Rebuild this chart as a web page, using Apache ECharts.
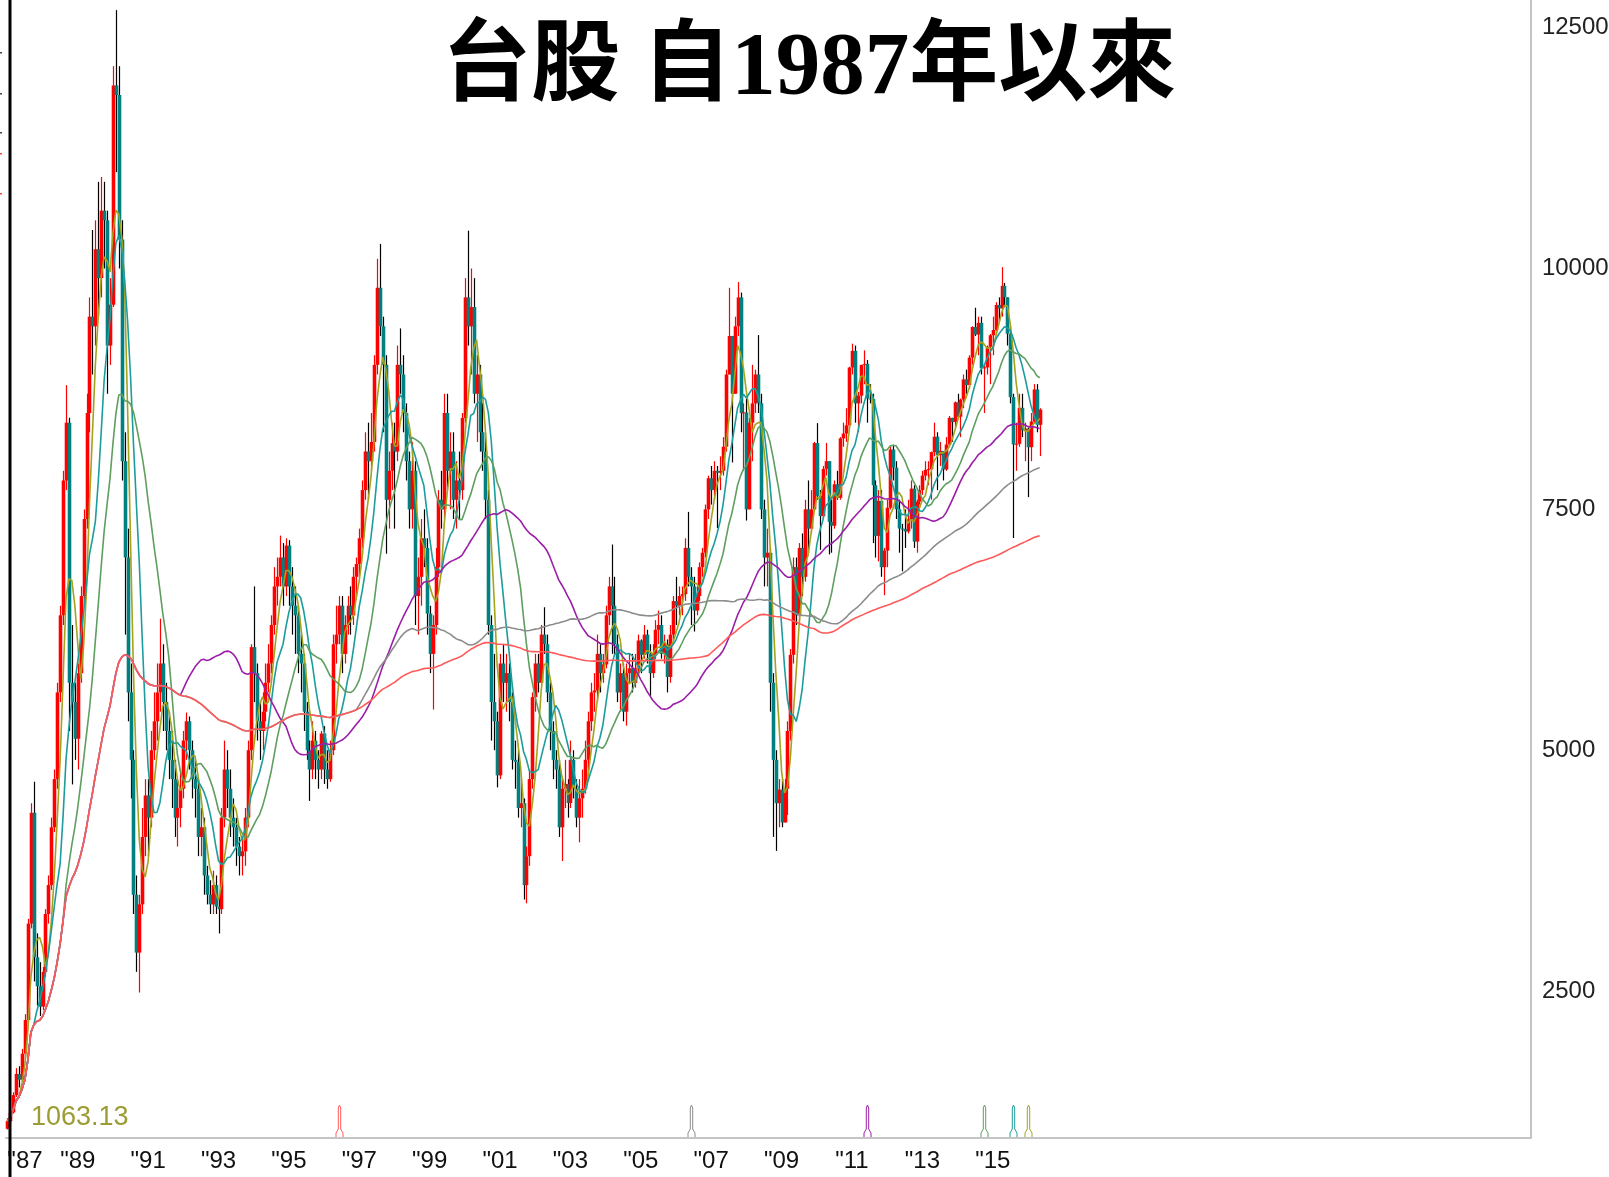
<!DOCTYPE html>
<html><head><meta charset="utf-8">
<script src="https://cdn.jsdelivr.net/npm/echarts@6/dist/echarts.min.js"></script>
<style>html,body{margin:0;padding:0;background:#fff;overflow:hidden}#c{width:1609px;height:1177px}</style>
</head><body><div id="c"></div>
<script>
// ---- DATA: monthly TAIEX candles, each row [open, close, low, high] ----
const startYear = 1987;
const y1987 = [[1070,1150,1063.13,1180],[1150,1240,1120,1260],[1240,1420,1230,1450],[1420,1640,1400,1700],[1640,1580,1500,1720],[1580,1850,1560,1900],[1850,2200,1820,2260],[2200,3200,2180,3250],[3200,4350,3150,4450],[4350,2850,2600,4673],[2850,2550,2350,3100],[2550,2339,2241,2800]];
const y1988 = [[2339,2700,2300,2750],[2700,3300,2650,3350],[3300,3600,3200,3700],[3600,4200,3550,4300],[4200,4700,4150,4800],[4700,5600,4600,5700],[5600,6400,5500,6500],[6400,7800,6300,7900],[7800,8400,7700,8789],[8400,5700,5200,8450],[5700,5500,4645,6300],[5500,5119,4900,5700]];
const y1989 = [[5119,5800,4800,5900],[5800,6600,5700,6700],[6600,7400,6500,7500],[7400,8500,7300,8700],[8500,9500,8300,9700],[9500,9400,8900,10400],[9400,10200,9200,10500],[10200,9900,9500,10900],[9900,10600,9700,10950],[10600,10500,10000,10900],[10500,9200,8700,10600],[9200,9624,9000,9900]];
const y1990 = [[9624,11900,9600,12100],[11900,11800,11000,12682],[11800,10300,10000,12100],[10300,8000,7800,10500],[8000,7000,6200,8300],[7000,5600,5300,7300],[5600,4900,4500,5900],[4900,3500,3300,5000],[3500,2900,2700,3700],[2900,3400,2485,3500],[3400,4100,3300,4400],[4100,4530,3900,4700]];
const y1991 = [[4530,4300,3900,4700],[4300,5000,4200,5200],[5000,5300,4900,5600],[5300,5600,5100,5900],[5600,5900,5400,6365],[5900,5500,5200,6100],[5500,5200,5000,5700],[5200,4900,4700,5400],[4900,4700,4400,5200],[4700,4300,4100,4900],[4300,4400,4000,4700],[4400,4600,4200,4800]];
const y1992 = [[4600,5100,4500,5200],[5100,5300,4900,5391],[5300,5000,4800,5350],[5000,4700,4500,5100],[4700,4600,4300,4900],[4600,4100,3900,4700],[4100,4200,3900,4400],[4200,3700,3500,4300],[3700,3500,3400,3800],[3500,3400,3300,3650],[3400,3600,3300,3750],[3600,3377,3300,3700]];
const y1993 = [[3377,3350,3098,3500],[3350,4300,3300,4400],[4300,4800,4200,5100],[4800,4600,4400,5000],[4600,4300,4100,4800],[4300,4200,4000,4500],[4200,4000,3800,4300],[4000,3900,3700,4100],[3900,3950,3700,4100],[3950,4300,3800,4400],[4300,5000,4200,5100],[5000,6070,4900,6100]];
const y1994 = [[6070,5800,5500,6700],[5800,5300,5100,5900],[5300,5200,4900,5500],[5200,5400,5000,5600],[5400,5700,5300,5900],[5700,5900,5600,6100],[5900,6300,5800,6400],[6300,6700,6200,6900],[6700,6800,6500,7000],[6800,7000,6700,7228],[7000,6700,6500,7150],[6700,7124,6600,7200]];
const y1995 = [[7124,6700,6500,7180],[6700,6500,6200,6900],[6500,6400,6000,6700],[6400,6000,5800,6500],[6000,5900,5600,6200],[5900,5400,5200,6000],[5400,5000,4900,5500],[5000,4800,4474,5100],[4800,5100,4700,5300],[5100,4900,4700,5200],[4900,4800,4600,5000],[4800,5173,4700,5200]];
const y1996 = [[5173,4800,4650,5250],[4800,4700,4600,5000],[4700,5000,4672,5100],[5000,6100,4950,6200],[6100,6200,5900,6500],[6200,6500,6100,6600],[6500,6000,5800,6600],[6000,6300,5900,6400],[6300,6500,6200,6600],[6500,6400,6200,6700],[6400,6800,6300,6900],[6800,6933,6600,7000]];
const y1997 = [[6933,7200,6800,7300],[7200,7700,7100,7800],[7700,8100,7600,8300],[8100,8000,7600,8400],[8000,8200,7900,8500],[8200,9000,8100,9100],[9000,9800,8900,10100],[9800,9400,9300,10256],[9400,9000,8300,9500],[9000,7600,7040,9100],[7600,7900,7300,8100],[7900,8187,7700,8400]];
const y1998 = [[8187,8100,7300,8400],[8100,9000,8000,9200],[9000,8900,8700,9378],[8900,8500,8300,9100],[8500,8000,7800,8600],[8000,7500,7300,8100],[7500,7900,7300,8200],[7900,6600,6300,8000],[6600,6800,6200,7000],[6800,7200,6500,7400],[7200,7100,6900,7500],[7100,6418,6200,7200]];
const y1999 = [[6418,6000,5800,6500],[6000,6300,5422,6400],[6300,6900,6200,7100],[6900,7600,6800,7700],[7600,7500,7300,7900],[7500,8500,7400,8700],[8500,7900,7700,8700],[7900,8100,7500,8300],[8100,7600,7400,8300],[7600,7800,7300,8000],[7800,7700,7400,8100],[7700,8448,7600,8500]];
const y2000 = [[8448,9700,8400,9900],[9700,9400,9200,10393],[9400,9600,8900,10000],[9600,8700,8600,9900],[8700,8900,8200,9100],[8900,8300,8100,9000],[8300,8100,7900,8600],[8100,7600,7400,8300],[7600,6300,6200,7700],[6300,5500,5100,6400],[5500,5300,5000,6000],[5300,4739,4614,5400]];
const y2001 = [[4739,5900,4700,6000],[5900,5700,5500,6104],[5700,5800,5400,6000],[5800,5500,5300,5900],[5500,4900,4800,5600],[4900,4880,4600,5100],[4880,4400,4300,5000],[4400,4450,4200,4700],[4450,3600,3450,4500],[3600,3900,3411,4000],[3900,4700,3800,4800],[4700,5551,4600,5600]];
const y2002 = [[5551,5900,5400,6000],[5900,5700,5600,6000],[5700,6200,5700,6300],[6200,6100,6000,6484],[6100,5600,5500,6200],[5600,5200,5000,5700],[5200,4900,4700,5300],[4900,4800,4600,5000],[4800,4200,4100,4900],[4200,4600,3850,4700],[4600,4650,4400,4900],[4650,4452,4300,4700]];
const y2003 = [[4452,4900,4400,5100],[4900,4600,4500,5000],[4600,4300,4200,4700],[4300,4500,4044,4700],[4500,4600,4300,4800],[4600,4900,4550,5100],[4900,5300,4800,5400],[5300,5600,5200,5700],[5600,5620,5400,5800],[5620,6000,5500,6200],[6000,5800,5600,6100],[5800,5890,5700,6000]];
const y2004 = [[5890,6400,5850,6500],[6400,6700,6300,6800],[6700,6500,6000,7135],[6500,6100,6000,6800],[6100,5600,5500,6200],[5600,5800,5400,5900],[5800,5400,5300,5900],[5400,5800,5255,5900],[5800,5850,5700,6000],[5850,5700,5600,6000],[5700,5850,5650,6000],[5850,6139,5800,6200]];
const y2005 = [[6139,5990,5800,6150],[5990,6200,5950,6300],[6200,6000,5900,6250],[6000,5800,5565,6100],[5800,6000,5750,6100],[6000,6250,5950,6350],[6250,6300,6100,6450],[6300,6000,5950,6400],[6000,6100,5900,6200],[6100,5760,5600,6150],[5760,6200,5700,6300],[6200,6548,6150,6600]];
const y2006 = [[6548,6500,6300,6800],[6500,6600,6400,6700],[6600,6620,6400,6700],[6620,7100,6550,7200],[7100,6800,6700,7474],[6800,6700,6300,6900],[6700,6450,6232,6800],[6450,6600,6400,6700],[6600,6900,6550,6950],[6900,7050,6800,7100],[7050,7500,7000,7550],[7500,7823,7400,7850]];
const y2007 = [[7823,7700,7550,7950],[7700,7900,7600,8000],[7900,7880,7306,7950],[7880,7900,7700,8050],[7900,8150,7850,8250],[8150,8900,8100,8950],[8900,9300,8900,9800],[9300,8700,7987,9300],[8700,9400,8700,9500],[9400,9700,9300,9859],[9700,8500,8300,9750],[8500,8506,7900,8600]];
const y2008 = [[8506,7500,7384,8650],[7500,8400,7500,8450],[8400,8600,8000,9000],[8600,8900,8500,8950],[8900,8600,8500,9309],[8600,7500,7400,8700],[7500,7000,6700,7600],[7000,7050,6700,7300],[7050,5700,5400,7100],[5700,4900,4100,5800],[4900,4450,3955,5000],[4450,4591,4200,4700]];
const y2009 = [[4591,4250,4200,4700],[4250,4600,4250,4700],[4600,5200,4328,5300],[5200,5990,5100,6050],[5990,6900,5900,7000],[6900,6400,6300,7000],[6400,7100,6300,7150],[7100,6800,6600,7250],[6800,7500,6750,7600],[7500,7300,7050,7800],[7300,7500,7250,7700],[7500,8188,7500,8200]];
const y2010 = [[8188,7640,7600,8395],[7640,7430,7080,7700],[7430,7920,7400,7950],[7920,8000,7850,8190],[8000,7370,7032,8000],[7370,7330,7050,7600],[7330,7760,7300,7800],[7760,7620,7600,7900],[7620,8237,7600,8250],[8237,8287,8150,8400],[8287,8372,8200,8550],[8372,8972,8350,8980]];
const y2011 = [[8972,9145,8900,9220],[9145,8600,8400,9200],[8600,8680,8300,8720],[8680,9000,8600,9000],[9000,9010,8800,9150],[9010,8650,8400,9050],[8650,8645,8600,8800],[8645,7750,7150,8700],[7750,7225,7000,7800],[7225,7588,6960,7700],[7588,6900,6800,7700],[6900,7072,6609,7100]];
const y2012 = [[7072,7517,6900,7600],[7517,8121,7500,8150],[8121,7933,7800,8170],[7933,7501,7400,8000],[7501,7301,7050,7600],[7301,7296,6857,7350],[7296,7270,7100,7500],[7270,7397,7250,7600],[7397,7715,7300,7800],[7715,7166,7100,7750],[7166,7580,7050,7600],[7580,7699,7550,7750]];
const y2013 = [[7699,7850,7650,7900],[7850,7910,7800,8000],[7910,7918,7750,8000],[7918,8094,7600,8100],[8094,8254,8050,8400],[8254,8062,7700,8300],[8062,8107,7950,8200],[8107,7914,7800,8100],[7914,8173,7900,8250],[8173,8450,8150,8470],[8450,8406,8200,8450],[8406,8611,8350,8620]];
const y2014 = [[8611,8462,8450,8700],[8462,8639,8250,8650],[8639,8849,8550,8900],[8849,8791,8700,8950],[8791,9075,8750,9100],[9075,9393,9000,9400],[9393,9315,9300,9593],[9315,9436,9100,9500],[9436,8966,8900,9500],[8966,8974,8500,9000],[8974,9187,8900,9200],[9187,9307,8800,9320]];
const y2015 = [[9307,9362,9100,9500],[9362,9622,9350,9650],[9622,9586,9450,9700],[9586,9820,9500,10014],[9820,9701,9600,9850],[9701,9323,9200,9700],[9323,8665,8600,9400],[8665,8175,7203,8700],[8175,8181,7900,8400],[8181,8554,8150,8700],[8554,8320,8250,8700],[8320,8338,8000,8400]];
const y2016 = [[8338,8145,7627,8350],[8145,8411,8000,8500],[8411,8744,8400,8800],[8744,8377,8300,8800],[8377,8535,8053,8550]];

const maPeriods = [5, 10, 20, 60, 120, 240];
const yTickValues = [2500, 5000, 7500, 10000, 12500];
const lowLabel = '1063.13';
const titleText = '台股 自1987年以來';

// ---- STYLE / LAYOUT ----
const maColors = ['#a3a31c', '#1c9c9c', '#5e9e5e', '#9a1ea6', '#8c8c8c', '#ff5a5a'];
const upColor = '#ff0000', downBody = '#008080', downWick = '#000000';
const totalSlots = 520;
const yMin = 975, yMax = 12787;
const labelFont = "'Liberation Sans',Arial,sans-serif";

const years = [y1987,y1988,y1989,y1990,y1991,y1992,y1993,y1994,y1995,y1996,y1997,y1998,y1999,y2000,y2001,y2002,y2003,y2004,y2005,y2006,y2007,y2008,y2009,y2010,y2011,y2012,y2013,y2014,y2015,y2016];
const candles = [].concat(...years);
const n = candles.length;

const categories = [];
for (let i = 0; i < totalSlots; i++) {
  const yr = startYear + Math.floor(i / 12), m = i % 12 + 1;
  categories.push(yr + '-' + (m < 10 ? '0' + m : m));
}
const closes = candles.map(r => r[1]);
function movingAvg(p) {
  const out = [];
  let sum = 0;
  for (let i = 0; i < n; i++) {
    sum += closes[i];
    if (i >= p) sum -= closes[i - p];
    out.push(+(sum / Math.min(i + 1, p)).toFixed(2));
  }
  return out;
}

const candleData = candles.map((r, i) => [i, r[0], r[1], r[2], r[3]]);

const chart = echarts.init(document.getElementById('c'), null, {renderer: 'canvas'});

const maSeries = maPeriods.map((p, k) => ({
  type: 'line', name: 'MA' + p, data: movingAvg(p), showSymbol: false, symbol: 'none',
  lineStyle: {color: maColors[k], width: 1.6}, z: 3 + k, silent: true, animation: false
}));

const markerData = maPeriods.map((p, k) => [n - p, yMin, k]);

const option = {
  animation: false,
  backgroundColor: '#ffffff',
  grid: {left: 5.9, right: 78.1, top: 0, bottom: 39, containLabel: false, outerBoundsMode: 'none'},
  xAxis: {
    type: 'category', data: categories, boundaryGap: true,
    axisLine: {show: true, lineStyle: {color: '#c4c4c4', width: 2}},
    axisTick: {show: false},
    splitLine: {show: false},
    axisLabel: {
      interval: (idx, val) => idx < n && val.endsWith('-01') && (parseInt(val) % 2 === 1),
      formatter: (val) => '"' + val.slice(2, 4),
      fontFamily: labelFont, fontSize: 24, color: '#111', margin: 11,
      alignMinLabel: 'left'
    }
  },
  yAxis: {
    type: 'value', position: 'right', min: yMin, max: yMax, scale: true,
    axisLine: {show: true, lineStyle: {color: '#c4c4c4', width: 2}},
    axisTick: {show: false},
    splitLine: {show: false},
    axisLabel: {
      customValues: yTickValues, fontFamily: labelFont, fontSize: 24, color: '#222', margin: 11,
      formatter: v => String(v)
    }
  },
  series: [
    {
      type: 'custom', name: 'candles', data: candleData, z: 2, silent: true,
      encode: {x: 0, y: [1, 2, 3, 4]},
      renderItem: function (params, api) {
        const i = api.value(0);
        const o = api.value(1), c = api.value(2), l = api.value(3), h = api.value(4);
        const pO = api.coord([i, o]), pC = api.coord([i, c]);
        const pL = api.coord([i, l]), pH = api.coord([i, h]);
        const up = c >= o;
        const xi = Math.round(pO[0]);
        const top = Math.min(pO[1], pC[1]), bot = Math.max(pO[1], pC[1]);
        return {
          type: 'group', children: [
            {type: 'line', shape: {x1: xi + 0.5, y1: pH[1], x2: xi + 0.5, y2: pL[1]}, style: {stroke: up ? upColor : downWick, lineWidth: 1.2}},
            {type: 'rect', shape: {x: xi - 1.3, y: top, width: 3.6, height: Math.max(1, bot - top)}, style: {fill: up ? upColor : downBody}}
          ]
        };
      }
    },
    ...maSeries,
    {
      type: 'custom', name: 'markers', data: markerData, z: 10, silent: true,
      encode: {x: 0, y: 1},
      renderItem: function (params, api) {
        const p = api.coord([api.value(0), api.value(1)]);
        const x = Math.round(p[0]) + 0.5;
        const b = params.coordSys.y + params.coordSys.height - 1;
        const t = b - 32;
        return {
          type: 'polyline',
          shape: {points: [[x - 3.5, b], [x - 3.5, b - 4], [x - 1.2, b - 8], [x - 1.2, t + 3], [x, t], [x + 1.2, t + 3], [x + 1.2, b - 8], [x + 3.5, b - 4], [x + 3.5, b]]},
          style: {stroke: maColors[api.value(2)], lineWidth: 1, fill: null}
        };
      }
    }
  ],
  graphic: [
    {type: 'rect', left: 8.5, top: 0, shape: {x: 0, y: 0, width: 3, height: 1177}, style: {fill: '#000'}, z: 100},
    {type: 'rect', x: 0, y: 52, shape: {width: 2, height: 1.5}, style: {fill: '#444'}, z: 100},
    {type: 'rect', x: 0, y: 93, shape: {width: 2, height: 1.5}, style: {fill: '#444'}, z: 100},
    {type: 'rect', x: 0, y: 132, shape: {width: 2, height: 1.5}, style: {fill: '#444'}, z: 100},
    {type: 'rect', x: 0, y: 153, shape: {width: 2, height: 1.5}, style: {fill: '#f44'}, z: 100},
    {type: 'rect', x: 0, y: 193, shape: {width: 2, height: 1.5}, style: {fill: '#f44'}, z: 100},
    {type: 'text', x: 809, y: 70, z: 100, style: {text: titleText, fill: '#000', font: "bold 89px 'Liberation Serif','Noto Sans CJK TC',serif", textAlign: 'center', textVerticalAlign: 'middle'}},
    {type: 'text', x: 31, y: 1118, z: 100, style: {text: lowLabel, fill: '#9c9c34', font: "27px " + labelFont, textAlign: 'left', textVerticalAlign: 'middle'}}
  ]
};
chart.setOption(option);
</script>
</body></html>
